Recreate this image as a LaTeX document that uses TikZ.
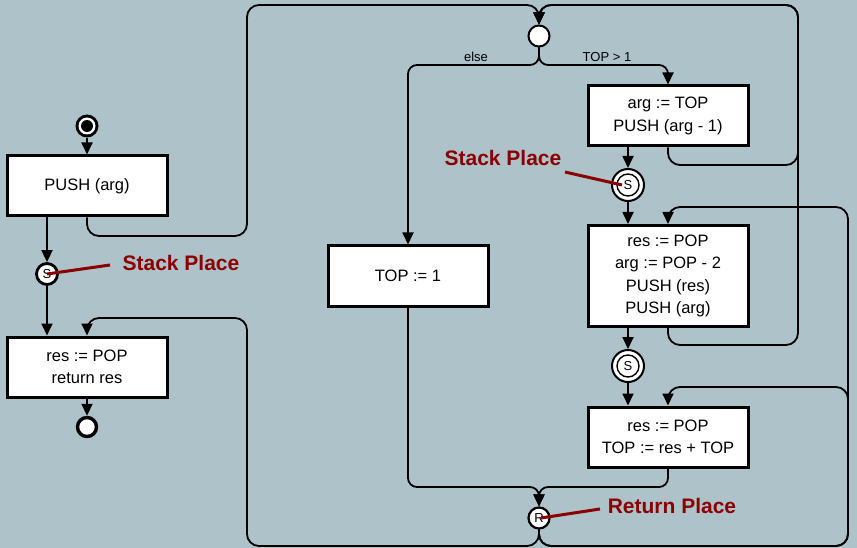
\documentclass[tikz,border=0pt]{standalone}
\usepackage{fontspec}
\setmainfont{Liberation Sans}
\usetikzlibrary{arrows.meta,calc}
\definecolor{bgc}{HTML}{AEC2CA}
\definecolor{lblred}{HTML}{8B0000}
\tikzset{
  box/.style={draw=black,fill=white,line width=3pt,minimum width=160pt,minimum height=60pt,inner sep=0pt,align=center,font=\fontsize{16.5}{22.3}\selectfont},
  conn/.style={line width=1.8pt,rounded corners=12pt},
  arr/.style={-{Triangle[length=12pt,width=11pt]}},
  place/.style={circle,draw=black,fill=white,line width=2.8pt,minimum size=21pt,inner sep=0pt,font=\fontsize{13}{13}\selectfont},
  dplace/.style={circle,draw=black,fill=white,line width=2pt,minimum size=32pt,inner sep=0pt,font=\fontsize{13}{13}\selectfont},
  lbl/.style={text=lblred,font=\fontsize{21}{21}\selectfont\bfseries},
  lblline/.style={draw=lblred,line width=3pt},
  small/.style={font=\fontsize{13}{13}\selectfont,inner sep=0pt},
}
\begin{document}
\begin{tikzpicture}[x=1pt,y=-1pt]
\fill[bgc] (0,0) rectangle (857,548);
\useasboundingbox (0,0) rectangle (857,548);

% left column
\node[circle,fill=black,minimum size=23pt,inner sep=0pt] (start) at (87,126) {};
\node[circle,fill=white,minimum size=17pt,inner sep=0pt] (startw) at (87,126) {};
\node[circle,fill=black,minimum size=12pt,inner sep=0pt] (startd) at (87,126) {};
\node[box] (bA) at (87,186) {PUSH (arg)};
\node[place] (s1) at (47,274) {S};
\node[box] (bB) at (87,367) {res := POP\\return res};
\node[circle,draw=black,fill=white,line width=3.4pt,minimum size=19pt,inner sep=0pt] (end) at (87,427) {};

% middle and right
\node[circle,draw=black,fill=white,line width=2pt,minimum size=21pt,inner sep=0pt] (merge) at (539,36) {};
\node[box] (bT) at (408,276) {TOP := 1};
\node[box] (b1) at (668,116) {arg := TOP\\PUSH (arg - 1)};
\node[dplace] (s2) at (628,185) {};
\node[circle,draw=black,line width=1.4pt,minimum size=22pt,inner sep=0pt,font=\fontsize{13}{13}\selectfont] (s2i) at (628,185) {S};
\node[box,minimum height=101pt] (b2) at (668,276) {res := POP\\arg := POP - 2\\PUSH (res)\\PUSH (arg)};
\node[dplace] (s3) at (628,366) {};
\node[circle,draw=black,line width=1.4pt,minimum size=22pt,inner sep=0pt,font=\fontsize{13}{13}\selectfont] (s3i) at (628,366) {S};
\node[box] (b3) at (668,437) {res := POP\\TOP := res + TOP};
\node[place,line width=2.2pt,minimum size=21pt] (ret) at (539,518) {R};

% edge labels
\node[small] (else) at (476,57) {else};
\node[small] (gt) at (607,57) {TOP > 1};

% left column connectors
\draw[conn,arr] (start) -- (bA);
\draw[conn,arr] (bA.south -| s1) -- (s1);
\draw[conn,arr] (s1) -- (s1 |- bB.north);
\draw[conn,arr] (bB) -- (end);

% to merge
\draw[conn,arr] (bA.south) -- (87,236) -- (247,236) -- (247,5) -- (539,5) -- (merge);
\draw[conn,arr] (b1.south) -- (668,165) -- (798,165) -- (798,5) -- (539,5) -- (merge);
\draw[conn,arr] (b2.south) -- (668,345) -- (798,345) -- (798,5) -- (539,5) -- (merge);

% branches
\draw[conn,rounded corners=9pt,arr] (merge) -- (539,65) -- (408,65) -- (bT);
\draw[conn,rounded corners=9pt,arr] (merge) -- (539,65) -- (668,65) -- (b1);

% right column
\draw[conn,arr] (b1.south -| s2) -- (s2);
\draw[conn,arr] (s2) -- (s2 |- b2.north);
\draw[conn,arr] (b2.south -| s3) -- (s3);
\draw[conn,arr] (s3) -- (s3 |- b3.north);

% to return
\draw[conn,rounded corners=9pt,arr] (bT) -- (408,487) -- (539,487) -- (ret);
\draw[conn,rounded corners=9pt,arr] (b3.south) -- (668,487) -- (539,487) -- (ret);

% from return
\draw[conn,arr] (ret) -- (539,546) -- (247,546) -- (247,318) -- (87,318) -- (bB);
\draw[conn,arr] (ret) -- (539,546) -- (848,546) -- (848,207) -- (668,207) -- (b2);
\draw[conn,arr] (ret) -- (539,546) -- (848,546) -- (848,387) -- (668,387) -- (b3);

% annotations
\node[lbl] (l1) at (181,263) {Stack Place};
\node[lbl] (l2) at (503,158) {Stack Place};
\node[lbl] (l3) at (672,506) {Return Place};
\draw[lblline] (110,265) -- (s1.center);
\draw[lblline] (565,172) -- ($(s2.center)+(-6,0)$);
\draw[lblline] (600,509) -- ($(ret.center)+(2,0)$);
\end{tikzpicture}
\end{document}
